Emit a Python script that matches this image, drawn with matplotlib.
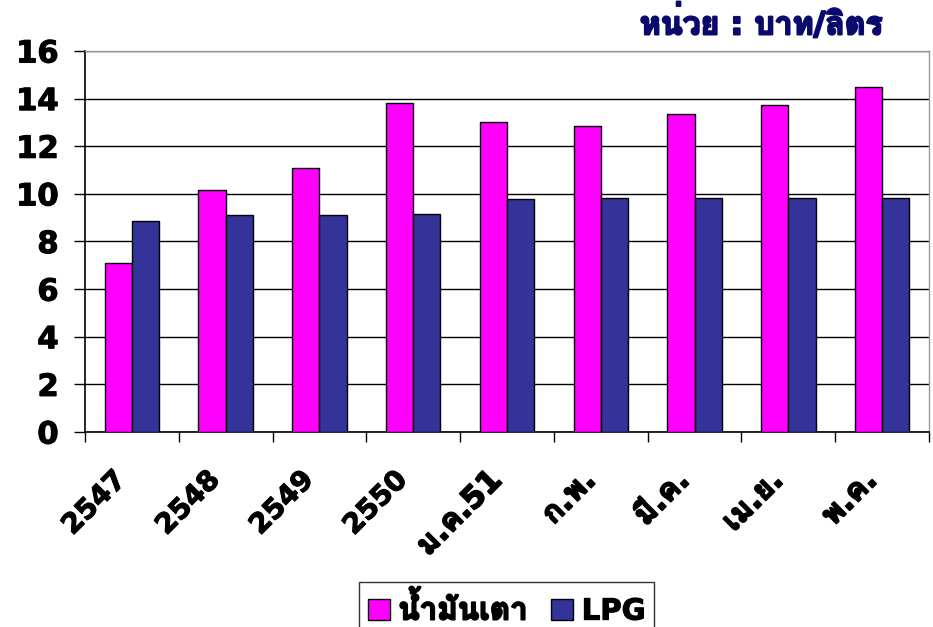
import numpy as np
import matplotlib
matplotlib.use("Agg")
import matplotlib.pyplot as plt
import matplotlib.patheffects as pe
from matplotlib import font_manager
from matplotlib.ft2font import FT2Font
from matplotlib.transforms import ScaledTranslation

categories = ["2547", "2548", "2549", "2550", "ม.ค.51", "ก.พ.", "มี.ค.", "เม.ย.", "พ.ค."]
kerosene = [7.1, 10.15, 11.1, 13.8, 13.0, 12.85, 13.35, 13.75, 14.5]
lpg = [8.87, 9.1, 9.1, 9.15, 9.77, 9.83, 9.83, 9.83, 9.83]
series_names = ["น้ำมันเตา", "LPG"]
unit_text = "หน่วย : บาท/ลิตร"


def find_thai_font():
    # pick an installed font that actually has Thai glyphs, bold if possible
    found = []
    for f in font_manager.fontManager.ttflist:
        try:
            if 0x0E01 in FT2Font(f.fname).get_charmap():
                found.append(f)
        except Exception:
            pass
    found.sort(key=lambda f: 0 if f.weight in ("bold", 700) else 1)
    return found[0].name if found else None


def is_thai(s):
    return any(0x0E00 <= ord(c) <= 0x0E7F for c in s)


thai = find_thai_font()
families = ["DejaVu Sans"] + ([thai] if thai else [])
plt.rcParams["font.family"] = families
plt.rcParams["font.weight"] = "bold"

# fake extra weight (reference is a heavy tahoma-like bold, no bold thai face here)
light = [pe.withStroke(linewidth=0.8, foreground="black")]
fat = [pe.withStroke(linewidth=1.3, foreground="black")]

fig = plt.figure(figsize=(9.33, 6.27), dpi=100)
ax = fig.add_axes([0.0911, 0.311, 0.9046, 0.6077])

x = np.arange(len(categories))
w = 0.29
ax.bar(x - w / 2, kerosene, w, color="#FF00FF", edgecolor="black", linewidth=1, label=series_names[0], zorder=3)
ax.bar(x + w / 2, lpg, w, color="#333399", edgecolor="black", linewidth=1, label=series_names[1], zorder=3)

ax.set_xlim(-0.5, len(categories) - 0.5)
ax.set_ylim(0, 16)
ax.set_yticks(np.arange(0, 17, 2))
ax.yaxis.grid(True, color="black", linewidth=1, zorder=0)
ax.tick_params(axis="y", labelsize=22, length=8, width=1, pad=11)
for lab in ax.get_yticklabels():
    lab.set_path_effects(light)

ax.set_xticks(np.arange(-0.5, len(categories), 1))
ax.set_xticklabels([])
ax.set_xticks(x, minor=True)
ax.set_xticklabels(categories, minor=True, rotation=45, ha="right",
                   rotation_mode="anchor", fontsize=20, fontweight="bold")
ax.tick_params(axis="x", which="major", length=7, width=1)
ax.tick_params(axis="x", which="minor", length=0, pad=24)
shift = ScaledTranslation(-0.2, 0, fig.dpi_scale_trans)
for lab in ax.get_xticklabels(minor=True):
    lab.set_transform(lab.get_transform() + shift)
    if is_thai(lab.get_text()):
        lab.set_fontsize(22)
        lab.set_path_effects(fat)
    else:
        lab.set_path_effects(light)

for s in ["left", "bottom"]:
    ax.spines[s].set_color("black")
    ax.spines[s].set_linewidth(1.2)
for s in ["top", "right"]:
    ax.spines[s].set_color("#999999")
    ax.spines[s].set_linewidth(1)

fig.text(0.946, 0.963, unit_text, ha="right", va="center", fontsize=23,
         fontweight="bold", color="#0A0A6E",
         path_effects=[pe.withStroke(linewidth=1.5, foreground="#0A0A6E")])

leg = fig.legend(loc="lower center", bbox_to_anchor=(0.543, -0.035), ncol=2,
                 fontsize=21, frameon=True, fancybox=False, handlelength=0.75,
                 handleheight=0.75, handletextpad=0.3, columnspacing=0.8,
                 borderpad=0.3)
leg.get_frame().set_edgecolor("black")
leg.get_frame().set_linewidth(1)
for t in leg.get_texts():
    if is_thai(t.get_text()):
        t.set_fontsize(22.5)
        t.set_path_effects(fat)
    else:
        t.set_path_effects(light)

fig.savefig("out.png", dpi=100)
